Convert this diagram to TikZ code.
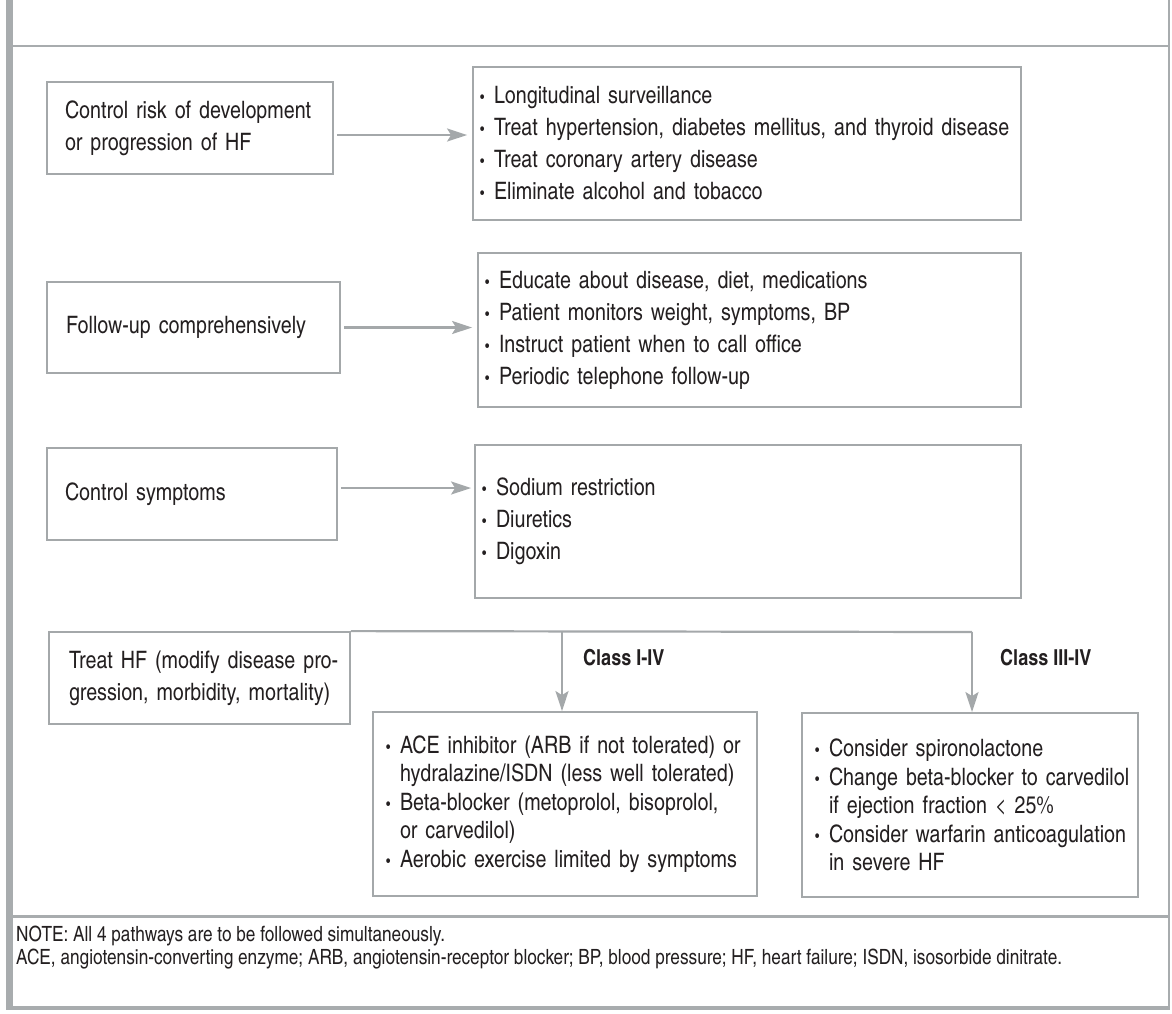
\documentclass[tikz,border=0pt]{standalone}
\usepackage{fontspec}
\usepackage{graphicx}
\setmainfont{texgyreheroscn-regular.otf}[BoldFont=texgyreheroscn-bold.otf]
\usetikzlibrary{arrows.meta}
\newlength{\bulw}
\setlength{\bulw}{14pt}
\newcommand{\bul}{\makebox[\bulw][l]{\raisebox{1pt}{\scalebox{0.62}{\textbullet}}}}
\newcommand{\hang}{\hspace*{\bulw}}
\newcommand{\jline}[1]{\makebox[\dimexpr\linewidth-\bulw\relax][s]{#1}}
\newcommand{\fline}[1]{\makebox[\linewidth][s]{#1}}

\begin{document}
\begin{tikzpicture}[x=1pt,y=-1pt,>={Stealth[length=20pt,width=13pt,inset=4pt]},
  font=\fontsize{24}{32}\selectfont,
  box/.style={draw=boxgray,line width=1.8pt,text=inkgray,align=left,inner sep=0pt},
  listbox/.style={box,font=\fontsize{24}{28.5}\selectfont},
  flow/.style={->,draw=boxgray,line width=2.6pt},
  classlabel/.style={text=inkgray,font=\fontsize{22}{26}\selectfont\bfseries,anchor=base west,inner sep=0pt},
  notetext/.style={text=inkgray,font=\fontsize{21}{23}\selectfont,anchor=base west,inner sep=0pt}]
\definecolor{framegray}{RGB}{168,172,174}
\definecolor{boxgray}{RGB}{164,168,170}
\definecolor{inkgray}{RGB}{35,31,32}
\useasboundingbox (0,0) rectangle (1172,1013);
\fill[framegray] (6,0) rectangle (13,1010);
\draw[framegray,line width=2.5pt] (13,46) -- (1169,46);
\draw[framegray,line width=1.5pt] (1169,0) -- (1169,1008);
\draw[framegray,line width=3pt] (13,916) -- (1169,916);
\draw[framegray,line width=4pt] (6,1008) -- (1170,1008);

\node[box,minimum width=286pt,minimum height=92pt,text width=250pt] (riskbox) at (190,128)
  {\fline{Control risk of development}\\or progression of HF};
\node[box,minimum width=548pt,minimum height=153pt,text width=534pt] (survbox) at (747,143.5)
  {\bul Longitudinal surveillance\\
   \bul Treat hypertension, diabetes mellitus, and thyroid disease\\
   \bul Treat coronary artery disease\\
   \bul Eliminate alcohol and tobacco};
\node[box,minimum width=293pt,minimum height=91pt,text width=255pt] (followbox) at (193.5,327.5)
  {Follow-up comprehensively};
\node[box,minimum width=543pt,minimum height=154pt,text width=529pt] (edubox) at (749.5,330)
  {\bul Educate about disease, diet, medications\\
   \bul Patient monitors weight, symptoms, BP\\
   \bul Instruct patient when to call office\\
   \bul Periodic telephone follow-up};
\node[box,minimum width=290pt,minimum height=92pt,text width=254pt] (symbox) at (192,494)
  {Control symptoms};
\node[box,minimum width=546pt,minimum height=153pt,text width=532pt] (sodbox) at (748,521.5)
  {\bul Sodium restriction\\
   \bul Diuretics\\
   \bul Digoxin};
\node[box,minimum width=301pt,minimum height=92pt,text width=261pt] (treatbox) at (199.5,678)
  {\fline{Treat HF (modify disease pro-}\\\mbox{gression, morbidity, mortality)}};
\node[listbox,minimum width=384pt,minimum height=184pt,text width=358pt] (acebox) at (565,804)
  {\bul\jline{ACE inhibitor (ARB if not tolerated) or}\\
   \hang hydralazine/ISDN (less well tolerated)\\
   \bul\jline{Beta-blocker (metoprolol, bisoprolol,}\\
   \hang or carvedilol)\\
   \bul Aerobic exercise limited by symptoms};
\node[listbox,minimum width=336pt,minimum height=184pt,text width=310pt] (hfbox) at (970,805)
  {\bul Consider spironolactone\\
   \bul\jline{Change beta-blocker to carvedilol}\\
   \hang if ejection fraction < 25\%\\
   \bul\jline{Consider warfarin anticoagulation}\\
   \hang in severe HF};

\coordinate (fork) at (562,632);
\coordinate (corner) at (972,632);
\draw[flow,shorten <=3pt,shorten >=5pt] ([yshift=-7pt]riskbox.east) -- ([yshift=-7pt]riskbox.east -| survbox.west);
\draw[flow,shorten <=3pt,shorten >=5pt] (followbox.east) -- (followbox.east -| edubox.west);
\draw[flow,shorten <=3pt,shorten >=3pt] ([yshift=6pt]symbox.east) -- ([yshift=6pt]symbox.east -| sodbox.west);
\draw[boxgray,line width=2.2pt] (treatbox.north east) -- (corner);
\draw[flow] (fork) -- (fork |- acebox.north);
\draw[flow] (corner) -- (corner |- hfbox.north);

\node[classlabel] (classmild) at (583,665) {Class I-IV};
\node[classlabel] (classsevere) at (1000,665) {Class III-IV};

\node[notetext] (note) at (16,941) {NOTE: All 4 pathways are to be followed simultaneously.};
\node[notetext] (abbrev) at (16,964) {ACE, angiotensin-converting enzyme; ARB, angiotensin-receptor blocker; BP, blood pressure; HF, heart failure; ISDN, isosorbide dinitrate.};
\end{tikzpicture}
\end{document}
